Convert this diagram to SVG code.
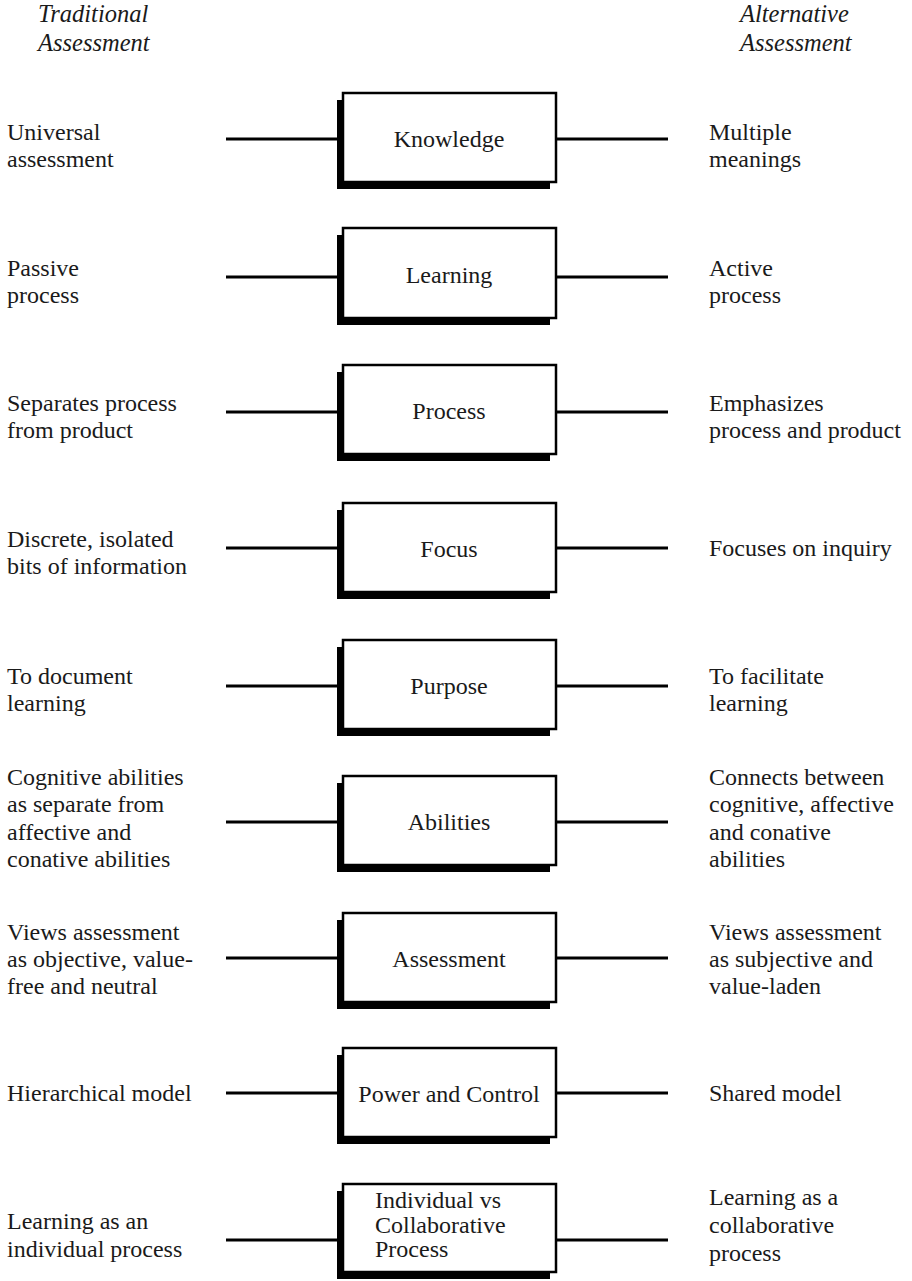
<svg xmlns="http://www.w3.org/2000/svg" width="912" height="1281" viewBox="0 0 912 1281">
<style>
text{font-family:"Liberation Serif","Times New Roman",serif;font-size:24px;fill:#1a1a1a}
.hd{font-style:italic;font-size:24.5px}
.lbl{text-anchor:middle}
.sh{fill:#000}
.bx{fill:#fff;stroke:#000;stroke-width:2.5}
.ln{stroke:#000;stroke-width:3;fill:none}
</style>
<g id="headers">
<text class="hd" x="38" y="22">Traditional</text>
<text class="hd" x="38" y="51">Assessment</text>
<text class="hd" x="740" y="22">Alternative</text>
<text class="hd" x="740" y="51">Assessment</text>
</g>
<g id="connectors">
<line class="ln" x1="226" y1="139" x2="343" y2="139"/><line class="ln" x1="556" y1="139" x2="668" y2="139"/>
<line class="ln" x1="226" y1="277" x2="343" y2="277"/><line class="ln" x1="556" y1="277" x2="668" y2="277"/>
<line class="ln" x1="226" y1="412" x2="343" y2="412"/><line class="ln" x1="556" y1="412" x2="668" y2="412"/>
<line class="ln" x1="226" y1="548" x2="343" y2="548"/><line class="ln" x1="556" y1="548" x2="668" y2="548"/>
<line class="ln" x1="226" y1="686" x2="343" y2="686"/><line class="ln" x1="556" y1="686" x2="668" y2="686"/>
<line class="ln" x1="226" y1="822" x2="343" y2="822"/><line class="ln" x1="556" y1="822" x2="668" y2="822"/>
<line class="ln" x1="226" y1="958" x2="343" y2="958"/><line class="ln" x1="556" y1="958" x2="668" y2="958"/>
<line class="ln" x1="226" y1="1093" x2="343" y2="1093"/><line class="ln" x1="556" y1="1093" x2="668" y2="1093"/>
<line class="ln" x1="226" y1="1240" x2="343" y2="1240"/><line class="ln" x1="556" y1="1240" x2="668" y2="1240"/>
</g>
<g id="knowledge">
<rect class="sh" x="337" y="100" width="213" height="89"/>
<rect class="bx" x="343" y="93" width="213" height="89"/>
<text class="lbl" x="449" y="147">Knowledge</text>
</g>
<g id="learning">
<rect class="sh" x="337" y="235" width="213" height="90"/>
<rect class="bx" x="343" y="228" width="213" height="90"/>
<text class="lbl" x="449" y="283">Learning</text>
</g>
<g id="process">
<rect class="sh" x="337" y="372" width="213" height="89"/>
<rect class="bx" x="343" y="365" width="213" height="89"/>
<text class="lbl" x="449" y="419">Process</text>
</g>
<g id="focus">
<rect class="sh" x="337" y="510" width="213" height="89"/>
<rect class="bx" x="343" y="503" width="213" height="89"/>
<text class="lbl" x="449" y="557">Focus</text>
</g>
<g id="purpose">
<rect class="sh" x="337" y="647" width="213" height="89"/>
<rect class="bx" x="343" y="640" width="213" height="89"/>
<text class="lbl" x="449" y="694">Purpose</text>
</g>
<g id="abilities">
<rect class="sh" x="337" y="783" width="213" height="89"/>
<rect class="bx" x="343" y="776" width="213" height="89"/>
<text class="lbl" x="449" y="830">Abilities</text>
</g>
<g id="assessment">
<rect class="sh" x="337" y="920" width="213" height="89"/>
<rect class="bx" x="343" y="913" width="213" height="89"/>
<text class="lbl" x="449" y="967">Assessment</text>
</g>
<g id="power">
<rect class="sh" x="337" y="1055" width="213" height="89"/>
<rect class="bx" x="343" y="1048" width="213" height="89"/>
<text class="lbl" x="449" y="1102">Power and Control</text>
</g>
<g id="individual">
<rect class="sh" x="337" y="1191" width="213" height="88"/>
<rect class="bx" x="343" y="1184" width="213" height="88"/>
<text x="375" y="1208">Individual vs</text>
<text x="375" y="1233">Collaborative</text>
<text x="375" y="1257">Process</text>
</g>
<g id="traditional">
<text x="7" y="140">Universal</text><text x="7" y="167">assessment</text>
<text x="7" y="276">Passive</text><text x="7" y="303">process</text>
<text x="7" y="411">Separates process</text><text x="7" y="438">from product</text>
<text x="7" y="547">Discrete, isolated</text><text x="7" y="574">bits of information</text>
<text x="7" y="684">To document</text><text x="7" y="711">learning</text>
<text x="7" y="785">Cognitive abilities</text><text x="7" y="812">as separate from</text><text x="7" y="840">affective and</text><text x="7" y="867">conative abilities</text>
<text x="7" y="940">Views assessment</text><text x="7" y="967">as objective, value-</text><text x="7" y="994">free and neutral</text>
<text x="7" y="1101">Hierarchical model</text>
<text x="7" y="1229">Learning as an</text><text x="7" y="1257">individual process</text>
</g>
<g id="alternative">
<text x="709" y="140">Multiple</text><text x="709" y="167">meanings</text>
<text x="709" y="276">Active</text><text x="709" y="303">process</text>
<text x="709" y="411">Emphasizes</text><text x="709" y="438">process and product</text>
<text x="709" y="556">Focuses on inquiry</text>
<text x="709" y="684">To facilitate</text><text x="709" y="711">learning</text>
<text x="709" y="785">Connects between</text><text x="709" y="812">cognitive, affective</text><text x="709" y="840">and conative</text><text x="709" y="867">abilities</text>
<text x="709" y="940">Views assessment</text><text x="709" y="967">as subjective and</text><text x="709" y="994">value-laden</text>
<text x="709" y="1101">Shared model</text>
<text x="709" y="1205">Learning as a</text><text x="709" y="1233">collaborative</text><text x="709" y="1261">process</text>
</g>
</svg>
